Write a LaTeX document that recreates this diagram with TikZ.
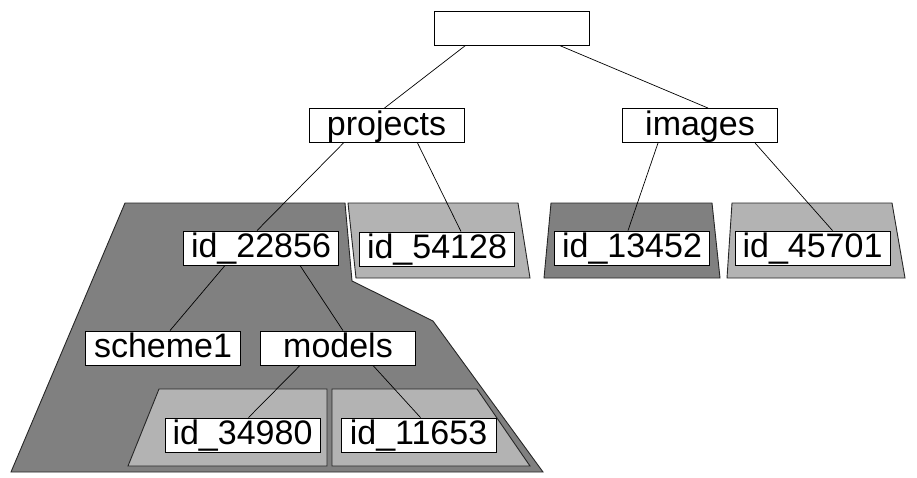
\documentclass[tikz,border=0pt]{standalone}
\usepackage{fontspec}
\setmainfont{Liberation Sans}
\usepackage{tikz}
\definecolor{dirdark}{RGB}{128,128,128}
\definecolor{dirlight}{RGB}{179,179,179}

\begin{document}
\begin{tikzpicture}[x=1pt,y=-1pt,
  dirbox/.style={draw=black,fill=white,line width=0.9pt,inner sep=0pt,
    minimum width=155pt,text height=26.5pt,text depth=7.5pt,
    font=\fontsize{34}{34}\selectfont},
  area/.style={draw=black!85,line width=0.9pt},
  link/.style={draw=black,line width=0.7pt}]
\useasboundingbox (0,0) rectangle (917,477);

% shaded areas
\filldraw [area,fill=dirdark] (125,203) -- (345,203) -- (352,281) -- (433,321) -- (543,472) -- (11,472) -- cycle;
\filldraw [area,fill=dirlight] (348,203) -- (518,203) -- (530,278) -- (356,278) -- cycle;
\filldraw [area,fill=dirdark] (551,203) -- (712,203) -- (720,278) -- (544,278) -- cycle;
\filldraw [area,fill=dirlight] (732,203) -- (892,203) -- (905,278) -- (727,278) -- cycle;
\filldraw [area,fill=dirlight] (159,389) -- (327,389) -- (327,466) -- (128,466) -- cycle;
\filldraw [area,fill=dirlight] (332,389) -- (477,389) -- (530,466) -- (332,466) -- cycle;

% folders
\node [dirbox] (root) at (511.5,28) {};
\node [dirbox] (projects) at (386.5,125.5) {projects};
\node [dirbox] (images) at (700,125.5) {images};
\node [dirbox] (id22856) at (261,248) {id\_22856};
\node [dirbox] (id54128) at (437,249) {id\_54128};
\node [dirbox] (id13452) at (632,248) {id\_13452};
\node [dirbox] (id45701) at (812.5,248) {id\_45701};
\node [dirbox] (scheme1) at (163,348) {scheme1};
\node [dirbox] (models) at (338,348) {models};
\node [dirbox] (id34980) at (242.5,435) {id\_34980};
\node [dirbox] (id11653) at (418.5,435) {id\_11653};

% links
\draw [link] ([xshift=-46pt]root.south) -- ([xshift=-2pt]projects.north);
\draw [link] ([xshift=48pt]root.south) -- ([xshift=8pt]images.north);
\draw [link] ([xshift=-43pt]projects.south) -- ([xshift=-4pt]id22856.north);
\draw [link] ([xshift=31pt]projects.south) -- ([xshift=24pt]id54128.north);
\draw [link] ([xshift=-42pt]images.south) -- ([xshift=-4pt]id13452.north);
\draw [link] ([xshift=55pt]images.south) -- ([xshift=20pt]id45701.north);
\draw [link] ([xshift=-36pt]id22856.south) -- ([xshift=7pt]scheme1.north);
\draw [link] ([xshift=39pt]id22856.south) -- ([xshift=5pt]models.north);
\draw [link] ([xshift=-38pt]models.south) -- ([xshift=6pt]id34980.north);
\draw [link] ([xshift=35pt]models.south) -- ([xshift=2pt]id11653.north);
\end{tikzpicture}
\end{document}
